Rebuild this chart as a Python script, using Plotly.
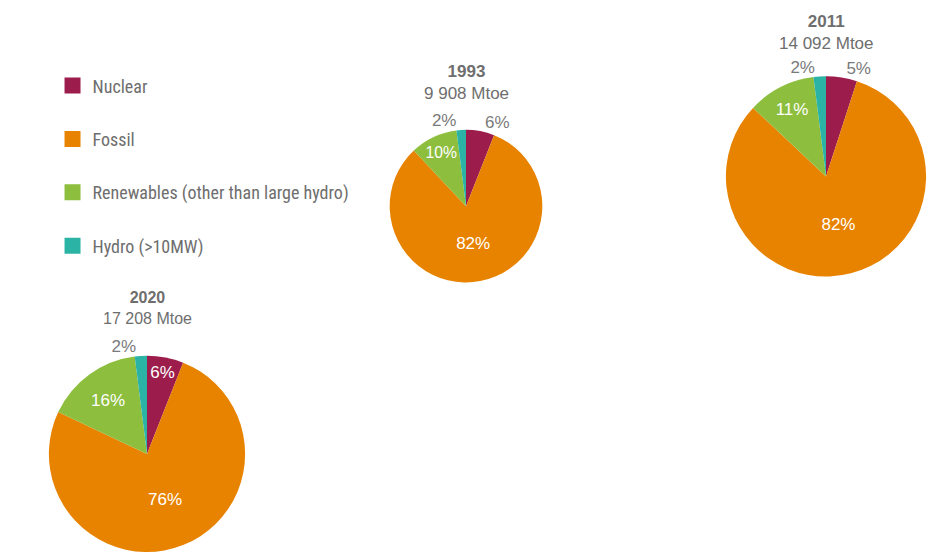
import plotly.graph_objects as go

# ---- data ----
sources = ["Nuclear", "Fossil", "Renewables (other than large hydro)", "Hydro (>10MW)"]
years = ["1993", "2011", "2020"]
totals = ["9 908 Mtoe", "14 092 Mtoe", "17 208 Mtoe"]
share_1993 = [6, 82, 10, 2]
share_2011 = [5, 82, 11, 2]
share_2020 = [6, 76, 16, 2]
shares = [share_1993, share_2011, share_2020]

# ---- style ----
colors = ["#9c1d4c", "#e88300", "#8dbe3e", "#2bb3a5"]
W, H = 938, 557
# pie centre (px from left/top) and radius (px)
geo = [(466, 208, 77), (826, 178, 101), (147, 458, 99)]
# which slices get their label outside
outside = [
    ["outside", "inside", "inside", "outside"],
    ["outside", "inside", "inside", "outside"],
    ["inside", "inside", "inside", "outside"],
]
grey = "#7a7a7a"
font_main = "Liberation Sans, Arial, sans-serif"
font_legend = "Liberation Sans Narrow, Arial Narrow, Roboto Condensed, DejaVu Sans Condensed, Liberation Sans, sans-serif"
title_shift = [25, 21, 27]
title_size = [17, 17, 16]

fig = go.Figure()

for i, (vals, (cx, cy, r)) in enumerate(zip(shares, geo)):
    fig.add_trace(go.Pie(
        labels=sources,
        values=vals,
        sort=False,
        direction="clockwise",
        rotation=0,
        marker=dict(colors=colors, line=dict(width=0)),
        texttemplate="%{value}%",
        textposition=outside[i],
        insidetextorientation="horizontal",
        insidetextfont=dict(color="white", size=17, family=font_main),
        outsidetextfont=dict(color=grey, size=17, family=font_main),
        hoverinfo="label+value",
        showlegend=False,
        domain=dict(
            x=[(cx - r) / W, (cx + r) / W],
            y=[(H - cy - r) / H, (H - cy + r) / H],
        ),
    ))
    # title above each pie
    fig.add_annotation(
        x=cx / W, y=(H - cy + r) / H, xref="paper", yref="paper",
        xanchor="center", yanchor="bottom", yshift=title_shift[i],
        text=f"<b>{years[i]}</b><br>{totals[i]}",
        showarrow=False, align="center",
        font=dict(size=title_size[i], color="#6e6e6e", family=font_main),
    )

# legend entries (one group per source for wide spacing)
for name, col in zip(sources, colors):
    fig.add_trace(go.Scatter(
        x=[None], y=[None], mode="markers", name=name,
        marker=dict(symbol="square", size=20, color=col),
        legendgroup=name, showlegend=True,
    ))

fig.update_layout(
    width=W, height=H,
    margin=dict(l=0, r=0, t=0, b=0),
    paper_bgcolor="white", plot_bgcolor="white",
    xaxis=dict(visible=False), yaxis=dict(visible=False),
    legend=dict(
        x=0.056, y=0.878, xanchor="left", yanchor="top",
        font=dict(size=18, color="#6e6e6e", family=font_legend),
        tracegroupgap=27, itemsizing="trace",
        bgcolor="rgba(0,0,0,0)",
    ),
)

fig.write_html("out.html")
